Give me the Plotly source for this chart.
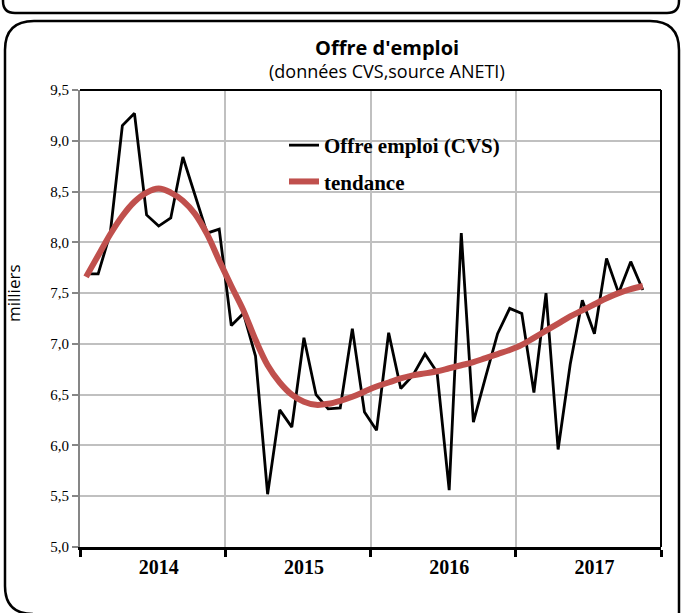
import numpy as np
import plotly.graph_objects as go

# Monthly job offers (seasonally adjusted, thousands), Jan 2014 - Nov 2017
years = ["2014", "2015", "2016", "2017"]
offre_cvs = [7.69, 7.69, 8.09, 9.15, 9.27, 8.27, 8.16, 8.24, 8.84, 8.46, 8.09, 8.13,
             7.18, 7.30, 6.88, 5.52, 6.35, 6.18, 7.06, 6.50, 6.36, 6.37, 7.15, 6.33,
             6.15, 7.11, 6.56, 6.69, 6.90, 6.72, 5.56, 8.09, 6.23, 6.67, 7.10, 7.35,
             7.30, 6.52, 7.50, 5.96, 6.80, 7.43, 7.10, 7.84, 7.50, 7.81, 7.53]
tendance = [7.66, 7.87, 8.08, 8.26, 8.40, 8.49, 8.53, 8.49, 8.41, 8.28, 8.08, 7.82,
            7.57, 7.33, 7.04, 6.79, 6.62, 6.50, 6.43, 6.40, 6.41, 6.44, 6.48, 6.53,
            6.58, 6.62, 6.66, 6.69, 6.71, 6.73, 6.76, 6.79, 6.82, 6.86, 6.90, 6.94,
            6.99, 7.06, 7.13, 7.20, 7.27, 7.33, 7.39, 7.45, 7.50, 7.54, 7.57]

MONTHS_PER_YEAR = 12
month_pos = np.arange(len(offre_cvs)) + 0.5
n_slots = MONTHS_PER_YEAR * len(years)

W, H = 682, 613
L, R, T, B = 80, 21, 90, 66
PW, PH = W - L - R, H - T - B


def px(x, y):
    """Pixel position on the page -> paper coordinates."""
    return (x - L) / PW, (H - B - y) / PH


def path(points_cmds):
    out = []
    for cmd, pts in points_cmds:
        coords = " ".join("%.5f,%.5f" % px(*p) for p in pts)
        out.append(cmd + " " + coords)
    return " ".join(out)


serif = "Liberation Serif"
sans = "Open Sans"

fig = go.Figure()
fig.add_trace(go.Scatter(
    x=month_pos, y=offre_cvs, mode="lines", name="Offre emploi (CVS)",
    line=dict(color="black", width=2.8), legendgroup="a",
))
fig.add_trace(go.Scatter(
    x=month_pos, y=tendance, mode="lines", name="tendance",
    line=dict(color="#C0504D", width=6, shape="spline", smoothing=1.0),
    legendgroup="b",
))

grid = "#C0C0C0"
fig.update_xaxes(
    range=[0, n_slots], tickmode="array",
    tickvals=[MONTHS_PER_YEAR * i + MONTHS_PER_YEAR / 2 for i in range(len(years))],
    ticktext=years, ticks="", showgrid=False, zeroline=False,
    tickfont=dict(family=serif, size=20, color="black", weight="bold"),
    ticklabelshift=6, ticklabelstandoff=0,
    minor=dict(tickmode="array",
               tickvals=[MONTHS_PER_YEAR * i for i in range(len(years) + 1)],
               ticks="outside", ticklen=7, tickwidth=3, tickcolor="black",
               showgrid=True, gridcolor=grid, gridwidth=2),
    showline=True, linecolor="black", linewidth=3,
)
fig.update_yaxes(
    range=[5, 9.5], tick0=5, dtick=0.5, tickformat=".1f",
    showgrid=True, gridcolor=grid, gridwidth=2, zeroline=False,
    showline=True, linecolor="#868686", linewidth=2,
    ticks="outside", ticklen=6, tickwidth=2, tickcolor="#868686",
    tickfont=dict(family=serif, size=15, color="black"),
)

shapes = [
    # top and right border of the plot area
    dict(type="line", xref="paper", yref="paper", x0=0, x1=1, y0=1, y1=1,
         line=dict(color="black", width=2)),
    dict(type="line", xref="paper", yref="paper", x0=1, x1=1, y0=0, y1=1,
         line=dict(color="black", width=2)),
    # upper rounded frame
    dict(type="path", xref="paper", yref="paper",
         path=path([("M", [(3, -6)]), ("L", [(3, 1)]), ("Q", [(3, 13), (15, 13)]),
                    ("L", [(667, 13)]), ("Q", [(679, 13), (679, 1)]),
                    ("L", [(679, -6)])]),
         line=dict(color="black", width=2.5)),
    # main rounded frame
    dict(type="path", xref="paper", yref="paper",
         path=path([("M", [(5, 586)]), ("Q", [(5, 614), (33, 614)]),
                    ("M", [(5, 586)]), ("L", [(5, 50)]), ("Q", [(5, 21), (34, 21)]),
                    ("L", [(650, 21)]), ("Q", [(679, 21), (679, 50)]),
                    ("L", [(679, 640)])]),
         line=dict(color="black", width=2.5)),
]

tx, ty1 = px(387, 47)
_, ty2 = px(387, 71)
mx, my = px(13, 293)
annotations = [
    dict(text="<b>Offre d'emploi</b>", xref="paper", yref="paper", x=tx, y=ty1,
         showarrow=False, xanchor="center", yanchor="middle",
         font=dict(family=sans, size=20, color="black")),
    dict(text="(données CVS,source ANETI)", xref="paper", yref="paper", x=tx, y=ty2,
         showarrow=False, xanchor="center", yanchor="middle",
         font=dict(family=sans, size=18, color="black")),
    dict(text="milliers", xref="paper", yref="paper", x=mx, y=my, textangle=-90,
         showarrow=False, xanchor="center", yanchor="middle",
         font=dict(family=sans, size=17, color="black")),
]

lx, ly = px(284, 125)
fig.update_layout(
    width=W, height=H, margin=dict(l=L, r=R, t=T, b=B, autoexpand=False),
    paper_bgcolor="white", plot_bgcolor="white",
    separators=", ",
    showlegend=True,
    legend=dict(x=lx, y=ly, xanchor="left", yanchor="top",
                bgcolor="rgba(0,0,0,0)", borderwidth=0,
                font=dict(family=serif, size=21, color="black", weight="bold"),
                traceorder="grouped", tracegroupgap=6, itemwidth=30),
    shapes=shapes, annotations=annotations,
)

fig.write_html("out.html")
